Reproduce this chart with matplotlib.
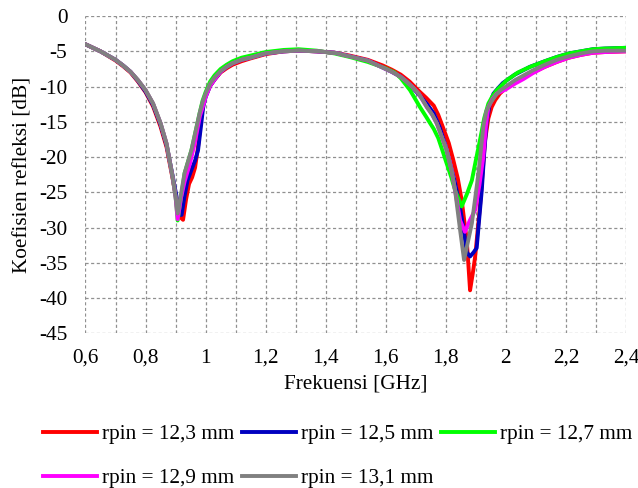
import numpy as np
import matplotlib.pyplot as plt
from matplotlib.ticker import MultipleLocator, FuncFormatter

plt.rcParams['font.family'] = ['Liberation Serif', 'DejaVu Serif']

# measured S11 for each pin radius (frequency in GHz, magnitude in dB)
f_123 = [0.6, 0.65, 0.7, 0.725, 0.75, 0.775, 0.8, 0.825, 0.85, 0.87, 0.89, 0.905, 0.915, 0.925, 0.935,
         0.945, 0.955, 0.965, 0.975, 0.985, 0.992, 1.0, 1.015, 1.03, 1.05, 1.07, 1.09, 1.12, 1.15, 1.2,
         1.26, 1.31, 1.37, 1.43, 1.48, 1.54, 1.59, 1.62, 1.65, 1.68, 1.71, 1.735, 1.76, 1.775, 1.79,
         1.81, 1.825, 1.84, 1.853, 1.87, 1.881, 1.89, 1.898, 1.914, 1.931, 1.942, 1.953, 1.965, 1.98,
         2.0, 2.03, 2.06, 2.09, 2.13, 2.17, 2.21, 2.25, 2.29, 2.33, 2.4]
s_123 = [-4.0, -5.0, -6.3, -7.1, -8.0, -9.3, -10.8, -12.8, -15.7, -18.6, -23.0, -26.5, -28.5, -28.9, -26.0,
         -23.8, -22.9, -21.5, -18.5, -14.5, -12.4, -11.3, -9.9, -9.0, -8.0, -7.4, -6.9, -6.4, -6.0, -5.4,
         -5.0, -4.9, -5.0, -5.2, -5.6, -6.2, -7.0, -7.6, -8.3, -9.3, -10.6, -11.6, -12.7, -14.0, -15.7,
         -18.0, -20.4, -23.0, -26.1, -31.8, -38.9, -36.5, -34.1, -27.0, -17.6, -14.5, -12.9, -11.9, -11.0,
         -10.2, -9.4, -8.7, -8.0, -7.2, -6.5, -5.9, -5.5, -5.2, -5.1, -5.0]

f_125 = [0.6, 0.65, 0.7, 0.725, 0.75, 0.775, 0.8, 0.825, 0.85, 0.87, 0.89, 0.905, 0.915, 0.92, 0.93,
         0.94, 0.953, 0.965, 0.975, 0.985, 0.992, 1.0, 1.015, 1.03, 1.05, 1.07, 1.09, 1.12, 1.15, 1.2,
         1.26, 1.31, 1.37, 1.43, 1.48, 1.54, 1.59, 1.62, 1.65, 1.67, 1.69, 1.71, 1.74, 1.76, 1.78, 1.8,
         1.815, 1.83, 1.845, 1.858, 1.87, 1.881, 1.893, 1.903, 1.912, 1.92, 1.928, 1.936, 1.946, 1.959,
         1.975, 1.99, 2.03, 2.08, 2.13, 2.17, 2.21, 2.25, 2.29, 2.33, 2.4]
s_125 = [-4.0, -5.0, -6.2, -7.0, -7.9, -9.2, -10.7, -12.6, -15.4, -18.3, -22.6, -26.0, -28.2, -28.2, -25.5,
         -23.3, -21.8, -20.5, -19.0, -15.5, -12.9, -11.5, -9.9, -9.0, -7.9, -7.2, -6.7, -6.2, -5.9, -5.3,
         -5.0, -4.9, -5.0, -5.2, -5.7, -6.3, -7.3, -7.9, -8.6, -9.3, -10.2, -11.1, -12.6, -13.8, -15.8, -18.5,
         -21.0, -23.5, -26.5, -29.8, -33.5, -34.1, -33.5, -32.9, -28.5, -24.7, -19.5, -15.2, -12.5, -11.0,
         -10.2, -9.5, -8.3, -7.2, -6.4, -5.8, -5.3, -5.0, -4.7, -4.6, -4.5]

f_127 = [0.6, 0.65, 0.675, 0.7, 0.725, 0.75, 0.775, 0.8, 0.825, 0.85, 0.87, 0.89, 0.9, 0.907, 0.93,
         0.953, 0.98, 0.99, 1.0, 1.015, 1.03, 1.05, 1.07, 1.09, 1.12, 1.15, 1.2, 1.26, 1.31, 1.37, 1.43,
         1.48, 1.54, 1.6, 1.63, 1.65, 1.681, 1.714, 1.735, 1.748, 1.76, 1.775, 1.79, 1.803, 1.818, 1.831,
         1.853, 1.87, 1.887, 1.9, 1.914, 1.928, 1.942, 1.955, 1.97, 2.003, 2.04, 2.081, 2.13, 2.17, 2.21,
         2.25, 2.29, 2.33, 2.4]
s_127 = [-4.0, -5.0, -5.6, -6.2, -7.0, -7.9, -9.1, -10.5, -12.4, -15.2, -18.1, -22.8, -25.6, -29.0, -22.3,
         -19.0, -13.8, -12.0, -10.8, -9.3, -8.4, -7.5, -6.9, -6.4, -5.9, -5.6, -5.1, -4.8, -4.7, -4.9, -5.3,
         -5.8, -6.5, -7.4, -8.0, -8.8, -10.5, -12.9, -14.3, -15.2, -16.0, -17.3, -19.2, -20.9, -22.8, -24.7,
         -27.0, -25.3, -23.3, -20.5, -17.6, -14.5, -12.4, -11.4, -10.5, -9.1, -8.0, -7.2, -6.4, -5.8, -5.3,
         -5.0, -4.7, -4.6, -4.5]

f_129 = [0.6, 0.65, 0.675, 0.7, 0.725, 0.75, 0.775, 0.8, 0.825, 0.85, 0.87, 0.89, 0.9, 0.907, 0.918,
         0.93, 0.948, 0.965, 0.981, 0.995, 1.0, 1.015, 1.03, 1.05, 1.07, 1.09, 1.12, 1.15, 1.2, 1.26, 1.31,
         1.37, 1.43, 1.48, 1.54, 1.59, 1.62, 1.65, 1.67, 1.69, 1.71, 1.737, 1.755, 1.77, 1.79, 1.803, 1.82,
         1.831, 1.848, 1.864, 1.88, 1.898, 1.912, 1.925, 1.934, 1.942, 1.955, 1.97, 2.0, 2.03, 2.06, 2.09,
         2.13, 2.17, 2.21, 2.25, 2.29, 2.33, 2.4]
s_129 = [-4.0, -5.0, -5.6, -6.2, -7.0, -7.9, -9.1, -10.5, -12.4, -15.2, -18.1, -22.8, -25.6, -28.8, -25.8,
         -23.5, -20.9, -17.8, -14.2, -12.3, -11.5, -9.9, -9.0, -7.9, -7.2, -6.7, -6.2, -5.9, -5.3, -5.0, -4.9,
         -5.0, -5.2, -5.7, -6.3, -7.3, -7.9, -8.6, -9.3, -10.1, -11.0, -12.9, -14.0, -15.2, -17.5, -19.0, -22.0,
         -24.7, -29.0, -30.6, -29.0, -27.5, -24.0, -20.0, -15.5, -12.9, -11.8, -11.0, -10.4, -9.6, -8.9, -8.1,
         -7.2, -6.5, -5.9, -5.5, -5.2, -5.1, -5.0]

f_131 = [0.6, 0.65, 0.675, 0.7, 0.725, 0.75, 0.775, 0.8, 0.825, 0.85, 0.87, 0.89, 0.9, 0.907, 0.93,
         0.953, 0.98, 0.99, 1.0, 1.015, 1.03, 1.05, 1.07, 1.09, 1.12, 1.15, 1.2, 1.26, 1.31, 1.37, 1.43,
         1.48, 1.54, 1.59, 1.62, 1.65, 1.67, 1.69, 1.71, 1.737, 1.755, 1.77, 1.79, 1.803, 1.82, 1.831,
         1.848, 1.861, 1.887, 1.909, 1.925, 1.935, 1.948, 1.965, 1.98, 2.0, 2.03, 2.06, 2.09, 2.13, 2.17,
         2.21, 2.25, 2.29, 2.33, 2.4]
s_131 = [-4.0, -5.0, -5.6, -6.2, -7.0, -7.9, -9.1, -10.5, -12.4, -15.2, -18.1, -22.8, -25.6, -28.0, -22.3,
         -19.0, -13.8, -12.2, -11.0, -9.6, -8.7, -7.8, -7.2, -6.7, -6.2, -5.9, -5.3, -5.0, -4.9, -5.0, -5.2,
         -5.7, -6.3, -7.3, -7.9, -8.6, -9.3, -10.1, -11.0, -12.9, -14.0, -15.2, -17.5, -19.0, -22.0, -24.7,
         -30.4, -34.6, -29.4, -22.3, -15.7, -13.5, -12.4, -11.3, -10.6, -10.0, -9.1, -8.4, -7.7, -6.9, -6.2,
         -5.7, -5.3, -5.0, -4.9, -4.9]

labels = ['rpin = 12,3 mm', 'rpin = 12,5 mm', 'rpin = 12,7 mm', 'rpin = 12,9 mm', 'rpin = 13,1 mm']
colors = ['#ff0000', '#0000c0', '#00ff00', '#ff00ff', '#808080']
series = [(f_123, s_123), (f_125, s_125), (f_127, s_127), (f_129, s_129), (f_131, s_131)]

fs = 15.3

fig = plt.figure(figsize=(6.38, 4.88), dpi=100)
ax = fig.add_axes([0.134, 0.317, 0.847, 0.650])

lines = []
for (f, s), c, lab in zip(series, colors, labels):
    ln, = ax.plot(f, s, color=c, lw=2.8, label=lab, solid_joinstyle='round')
    lines.append(ln)

ax.set_xlim(0.6, 2.4)
ax.set_ylim(-45, 0)
ax.xaxis.set_major_locator(MultipleLocator(0.2))
ax.xaxis.set_minor_locator(MultipleLocator(0.1))
ax.yaxis.set_major_locator(MultipleLocator(5))

comma = FuncFormatter(lambda v, p: ('%g' % round(v, 2)).replace('.', ','))
ax.xaxis.set_major_formatter(comma)
ax.yaxis.set_major_formatter(comma)

ax.grid(True, which='both', color='#909090', ls=(0, (2.5, 2)), lw=0.9)
ax.set_axisbelow(True)
for sp in ax.spines.values():
    sp.set_visible(False)
ax.tick_params(which='both', length=0, labelsize=fs)
ax.tick_params(axis='x', pad=11)
ax.tick_params(axis='y', pad=13)

ax.set_xlabel('Frekuensi [GHz]', fontsize=fs, labelpad=5)
ax.set_ylabel('Koefisien refleksi [dB]', fontsize=fs, labelpad=5)

# legend fills column by column, so reorder to read row by row
order = [0, 3, 1, 4, 2]
ax.legend([lines[i] for i in order], [labels[i] for i in order],
          loc='upper left', bbox_to_anchor=(0.068, 0.130), bbox_transform=fig.transFigure,
          ncol=3, frameon=False, fontsize=fs, handlelength=2.52, handletextpad=0.24,
          columnspacing=0.37, labelspacing=1.12, borderaxespad=0, borderpad=0)

fig.savefig('out.png', dpi=100)
